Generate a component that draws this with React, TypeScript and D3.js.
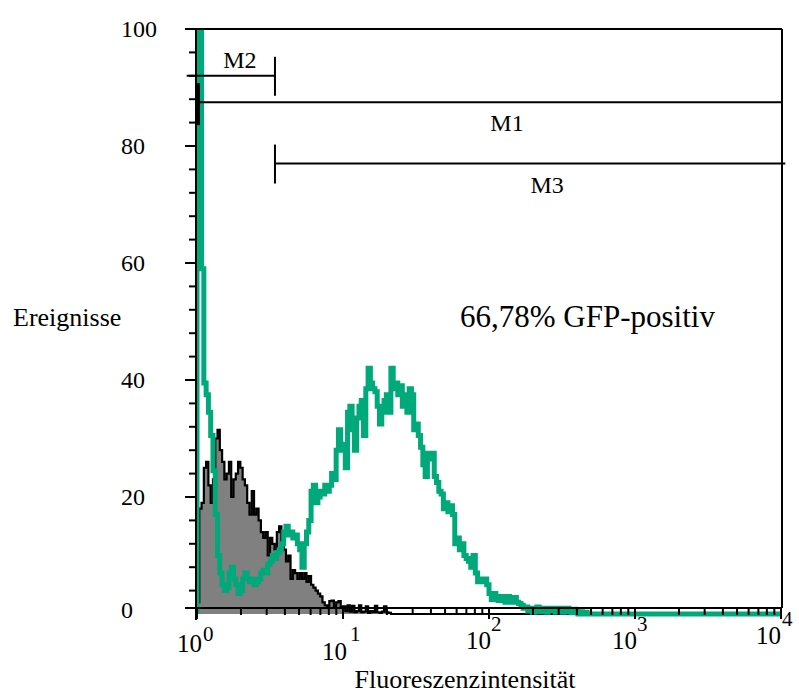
import React from "react";
import * as d3 from "d3";

// ---- data ----
const channelCount = 256;
// GFP-transfected cells (green), per channel (log scale, 4 decades / 256 channels)
const gfpCounts = [
  130, 110, 59, 39.5, 37.5, 34.5, 30.5, 24.5, 17, 10,
  7, 5, 4, 4.5, 7, 8, 6, 5, 3.5, 4,
  6, 7, 6, 5.5, 6, 5, 5.5, 6, 7, 7.5,
  7, 8.5, 9, 10, 9.5, 10.5, 11, 12, 14, 15,
  13.5, 14, 13, 13.5, 12, 11, 8, 12, 14, 16,
  21, 22, 19, 20, 21, 20.5, 22, 21, 22, 24,
  23, 28, 31.5, 28, 29, 25, 34.5, 35.5, 31.5, 28,
  33.5, 35.5, 36.5, 30.5, 38.5, 42, 39.5, 38.5, 38, 35.5,
  32.5, 34.5, 36.5, 37.5, 34.5, 42, 38.5, 39.5, 37.5, 39,
  35.5, 37.5, 34.5, 38.5, 37.5, 31.5, 32.5, 30.5, 28.5, 25.5,
  23.5, 27.5, 26.5, 27.5, 23.5, 22.5, 21, 20.5, 18, 19,
  17.5, 18.5, 17, 12, 13, 11, 12, 10, 9.5, 9,
  8, 10, 7, 5.5, 6, 5.5, 6, 5, 3.5, 2.5,
  3.5, 2.5, 2.3, 3, 2.5, 2, 3, 2.5, 2, 2.8,
  2, 1.8, 1.5, 1, 1.2, 0.5, 1, 0.3, 1, 1.2,
  0.4, 1, 0.8, 0.3, 1, 0.6, 1, 0.3, 0.8, 1,
  0.3, 0.6, 1, 0.4, 0.2, 0.8, 0.5, 0, 0.4, 0,
  0.3,
];
// control cells (grey filled)
const controlCounts = [
  2, 18, 19, 25, 26, 22, 19, 23, 30, 31.5,
  28, 26, 23, 24, 26, 20, 23, 24, 26, 25,
  23, 22, 19, 17, 21, 17, 18, 16, 14, 13,
  14, 10, 13, 12, 11, 14, 15, 12, 11, 9,
  10, 6, 7.5, 7, 6, 7, 6, 7, 5.5, 6.5,
  5, 4.5, 4, 3.5, 3, 2, 1.5, 1.3, 2.2, 2.3,
  1.3, 2, 2.2, 1.2, 1.3, 0.5, 1.5, 0.4, 1.4, 0.3,
  0.5, 1.5, 0.3, 0.4, 1.3, 0.2, 0.5, 0.3, 1.4, 0.3,
  0.2, 0.4, 1.3, 0.3, 0.2,
];

const yTickValues = [0, 20, 40, 60, 80, 100];
const xDecades = [1, 10, 100, 1000, 10000];
const xDecadeExponents = ["0", "1", "2", "3", "4"];

const markerNames = ["M1", "M2", "M3"];
const markerStart = [1, 0.85, 3.42];
const markerEnd = [10000, 3.42, 10700];
const markerLevel = [87.5, 92, 77];

const yTitle = "Ereignisse";
const xTitle = "Fluoreszenzintensität";
const annotation = "66,78% GFP-positiv";

// ---- layout ----
const W = 799;
const H = 695;
const FONT = "'Liberation Serif', 'Times New Roman', serif";
const GREEN = "#00a97a";

export default function App() {
  const x = d3.scaleLog().domain([1, 10000]).range([197, 781]);
  const y = d3.scaleLinear().domain([0, 100]).range([614, 29]);
  const chValue = (c: number) => Math.pow(10, (c * 4) / channelCount);
  const cx = (c: number) => x(chValue(c));

  const toPoints = (arr: number[]) => {
    const pts: [number, number][] = [[0, 0]];
    for (let c = 0; c < channelCount; c++) pts.push([c, c < arr.length ? arr[c] : 0]);
    pts.push([channelCount, 0]);
    return pts;
  };

  const line = d3
    .line<[number, number]>()
    .x((d) => cx(d[0]))
    .y((d) => y(d[1]))
    .curve(d3.curveStepAfter);
  const area = d3
    .area<[number, number]>()
    .x((d) => cx(d[0]))
    .y0(y(0))
    .y1((d) => y(d[1]))
    .curve(d3.curveStepAfter);

  const ctrlPts = toPoints(controlCounts);
  const gfpPts = toPoints(gfpCounts);

  const axisY = 608;
  const xLeft = 196;
  const xRight = 782;
  const top = y(100);

  const yMinor = d3.range(4, 101, 4);
  const xMinor: number[] = [];
  for (let d = 0; d < 4; d++) for (let k = 2; k <= 9; k++) xMinor.push(k * Math.pow(10, d));

  const baseDx = [5, 4, 2, 2, 0];
  const baseY = [652, 660, 649, 649, 644];
  const supDx = [6, 7, 2, 2, 1];
  const supY = [641, 641, 631, 631, 626];
  const labelDx = [18, 9, 17];

  return (
    <svg
      width={W}
      height={H}
      style={{ position: "absolute", left: 0, top: 0, display: "block", background: "#fff" }}
      fontFamily={FONT}
    >
      <defs>
        <clipPath id="plotclip">
          <rect x={xLeft} y={top} width={xRight - xLeft + 1} height={630 - top} />
        </clipPath>
      </defs>
      <rect x={0} y={0} width={W} height={H} fill="#fff" />

      <g clipPath="url(#plotclip)">
        <path d={area(ctrlPts) || ""} fill="#808080" />
        <path d={line(ctrlPts) || ""} fill="none" stroke="#000" strokeWidth={2.2} />
        <path d={line(gfpPts) || ""} fill="none" stroke={GREEN} strokeWidth={5} />
      </g>

      {/* frame */}
      <line x1={xLeft} x2={xRight} y1={top} y2={top} stroke="#000" strokeWidth={2} />
      <line x1={xRight} x2={xRight} y1={top} y2={axisY} stroke="#000" strokeWidth={2} />
      <line x1={xLeft} x2={xLeft} y1={top} y2={620} stroke="#000" strokeWidth={2} />
      <line x1={185} x2={xRight} y1={axisY} y2={axisY} stroke="#000" strokeWidth={2} />

      {/* y ticks */}
      {yMinor.map((v) => (
        <line
          key={"yt" + v}
          x1={v % 20 === 0 ? 185 : 189}
          x2={xLeft}
          y1={y(v)}
          y2={y(v)}
          stroke="#000"
          strokeWidth={2}
        />
      ))}
      {yTickValues.map((v) => (
        <text
          key={"yl" + v}
          x={121}
          y={Math.min(Math.max(y(v), 25), 610)}
          dy="0.34em"
          fontSize={24}
          fill="#000"
        >
          {v}
        </text>
      ))}

      {/* x ticks */}
      {xMinor.map((v) => (
        <line key={"xm" + v} x1={x(v)} x2={x(v)} y1={axisY} y2={615} stroke="#000" strokeWidth={2} />
      ))}
      {xDecades.map((v) => (
        <line key={"xd" + v} x1={x(v)} x2={x(v)} y1={axisY} y2={619} stroke="#000" strokeWidth={2} />
      ))}
      {xDecades.map((v, i) => (
        <g key={"xl" + v}>
          <text x={x(v) + baseDx[i]} y={baseY[i]} textAnchor="end" fontSize={25} fill="#000">
            10
          </text>
          <text x={x(v) + supDx[i]} y={supY[i]} fontSize={21} fill="#000">
            {xDecadeExponents[i]}
          </text>
        </g>
      ))}

      {/* markers */}
      {markerNames.map((m, i) => {
        const x1 = x(markerStart[i]);
        const x2 = x(markerEnd[i]);
        const yy = y(markerLevel[i]);
        const above = i === 1;
        const ticks: number[] = [];
        if (markerStart[i] >= 1) ticks.push(markerStart[i] === 1 ? x1 + 1.5 : x1);
        if (markerEnd[i] < 10000) ticks.push(x2);
        return (
          <g key={m}>
            <line x1={x1} x2={x2} y1={yy} y2={yy} stroke="#000" strokeWidth={2} />
            {ticks.map((tx, j) => (
              <line
                key={j}
                x1={tx}
                x2={tx}
                y1={yy - 19}
                y2={yy + (i === 0 ? 23 : 20)}
                stroke="#000"
                strokeWidth={i === 0 ? 3 : 2}
              />
            ))}
            <text
              x={(x1 + x2) / 2 + labelDx[i]}
              y={above ? yy - 8 : yy + 29}
              textAnchor="middle"
              fontSize={24}
              fill="#000"
            >
              {m}
            </text>
          </g>
        );
      })}

      {/* titles */}
      <text x={13} y={326} fontSize={26} fill="#000">
        {yTitle}
      </text>
      <text x={465} y={688} textAnchor="middle" fontSize={26} fill="#000">
        {xTitle}
      </text>
      <text x={460} y={327} fontSize={31} fill="#000">
        {annotation}
      </text>
    </svg>
  );
}
